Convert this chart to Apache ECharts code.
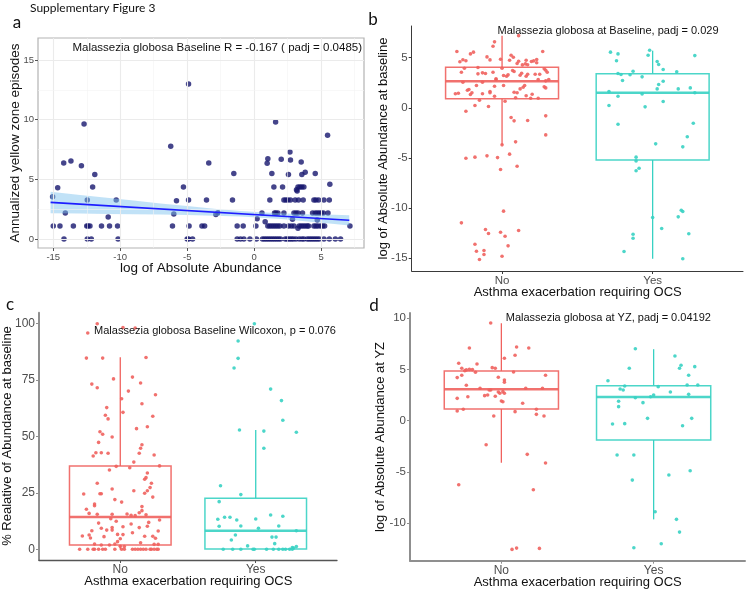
<!DOCTYPE html>
<html><head><meta charset="utf-8">
<script src="https://cdn.jsdelivr.net/npm/echarts@6/dist/echarts.min.js"></script>
<style>html,body{margin:0;padding:0;background:#fff}#c{width:747px;height:590px}</style>
</head><body><div id="c"></div><script>
// ---------- DATA ----------
const groups = ['No', 'Yes'];
// Panel a: [log abundance, annualized yellow zone episodes]
const aPts = [
 [-14.2,0],[-12.46,0],[-12.16,0],[-10.16,0],[-5.0,0],[-4.9,0],[-4.6,0],[-1.27,0],[-1.02,0],[-0.77,0],[-0.32,0],[0.17,0],[0.62,0],[0.77,0],
 [0.92,0],[1.07,0],[1.22,0],[1.37,0],[1.52,0],[1.67,0],[1.82,0],[1.97,0],[2.32,0],[2.47,0],[2.62,0],[2.77,0],[2.92,0],[3.12,0],
 [3.36,0],[3.56,0],[3.71,0],[3.96,0],[4.11,0],[4.26,0],[4.41,0],[4.56,0],[4.71,0],[4.86,0],[5.21,0],[5.61,0],[6.06,0],[6.45,0],
 [-15,1.09],[-14.5,1.09],[-13.5,1.09],[-12.5,1.09],[-12.4,1.09],[-12.26,1.09],[-11.4,1.09],[-10.8,1.09],[-10.2,1.09],[-6.1,1.09],[-4.86,1.09],[-3.9,1.09],[-3.7,1.09],[-1.27,1.09],
 [-0.82,1.09],[0.13,1.09],[1.02,1.09],[1.17,1.09],[1.32,1.09],[1.47,1.09],[1.62,1.09],[1.77,1.09],[1.92,1.09],[2.22,1.09],[2.56,1.09],[2.77,1.09],[2.97,1.09],[3.36,1.09],
 [3.51,1.09],[3.66,1.09],[3.81,1.09],[3.96,1.09],[4.06,1.09],[4.46,1.09],[4.61,1.09],[4.76,1.09],[4.96,1.09],[5.11,1.09],[5.26,1.09],[7.15,1.09],
 [3.27,0.9],[-10.9,1.85],[0.22,1.7],[0.82,1.45],[2.86,1.65],[4.71,1.6],
 [-14.1,2.18],[-6.0,2.1],[-2.86,2.05],[-2.7,2.2],[0.58,2.18],[1.52,2.18],[1.62,2.18],[1.77,2.18],[2.22,2.18],[2.97,2.18],
 [3.12,2.18],[3.27,2.18],[3.61,2.18],[4.36,2.18],[4.56,2.18],[4.71,2.18],[4.86,2.18],[5.01,2.18],[5.16,2.18],[5.51,2.18],
 [-15.05,3.55],[-12.46,3.27],[-10.3,3.27],[-5.8,3.2],[-4.9,3.27],[-3.56,3.27],[-1.62,3.27],[1.17,3.27],[2.22,3.27],[2.37,3.27],
 [2.52,3.27],[2.71,3.27],[3.06,3.27],[3.31,3.27],[3.66,3.27],[4.46,3.27],[4.61,3.27],[4.81,3.27],[5.21,3.27],[5.61,3.27],
 [-14.67,4.3],[-12.06,4.36],[-5.28,4.36],[1.47,4.36],[2.12,4.36],[3.27,4.36],[3.42,4.36],[3.56,4.36],[3.71,4.36],[3.16,4.13],[3.21,4.02],[5.65,4.6],
 [-11.9,5.4],[-1.52,5.5],[1.32,5.5],[2.56,5.4],[3.56,5.4],[3.81,5.6],[4.56,5.5],
 [-14.22,6.37],[-13.68,6.54],[-12.9,6.15],[-6.23,7.77],[-3.39,6.37],[1.02,6.73],[0.97,6.35],[2.02,6.68],[2.71,6.62],[3.51,6.45],[2.67,7.3],
 [-12.7,9.64],[-4.9,13.0],[1.6,9.8],[5.48,8.69]
];
const fitX = [-15.2, 7.1];
const fitY = [3.07, 1.57];
const bandX  = [-15.2,-13,-11,-9,-7,-5,-3,-1,0.5,2,4,6,7.1];
const bandLo = [2.17,2.14,2.11,2.08,2.05,2.01,1.95,1.88,1.79,1.68,1.48,1.27,1.14];
const bandHi = [3.97,3.70,3.47,3.23,2.99,2.77,2.55,2.36,2.24,2.16,2.08,2.03,2.00];
const aXTicks = [-15,-10,-5,0,5];
const aYTicks = [0,5,10,15];

// Panel b: [jitter, log abundance at baseline]
const bNoPts = [
 [-0.30,5.61],[-0.19,5.55],[-0.21,5.38],[-0.28,4.59],[-0.26,4.80],[-0.24,4.70],[-0.05,6.58],[-0.06,6.14],[0.11,7.20],[-0.10,5.08],
 [-0.01,4.85],[0.06,5.25],[0.27,5.61],[0.23,4.82],[-0.27,3.55],[-0.25,3.95],[-0.16,4.02],[-0.04,2.82],[0.07,3.72],[0.29,3.75],
 [-0.31,1.40],[-0.23,1.76],[-0.17,2.22],[0.01,2.22],[-0.24,-0.34],[-0.18,0.23],[-0.09,0.13],[0.06,-0.97],[0.08,-1.30],[0.17,-1.27],
 [0.29,-0.80],[0.29,-2.70],[0.00,-3.69],[0.09,-3.39],[-0.24,-5.02],[-0.18,-4.92],[-0.10,-4.79],[-0.03,-4.96],[0.05,-4.62],[-0.01,-6.15],
 [0.10,-5.82],[0.01,-10.30],[-0.27,-11.47],[-0.11,-12.13],[-0.09,-12.53],[-0.01,-12.40],[0.02,-12.80],[0.11,-12.23],[-0.18,-13.60],[0.04,-13.76],
 [-0.17,-14.30],[-0.12,-14.23],[-0.12,-14.63],[0.00,-14.80],[-0.15,-15.13],[-0.08,4.78],[0.075,5.05],[0.195,4.62],[0.21,4.68],[0.155,4.38],
 [0.135,4.28],[0.10,4.42],[-0.13,3.49],[-0.11,3.42],[-0.06,3.55],[0.00,3.95],[0.03,3.15],[0.04,3.29],[0.13,3.45],[0.16,3.15],
 [0.22,3.35],[0.24,2.82],[0.30,3.55],[0.31,2.82],[-0.29,1.46],[-0.21,1.33],[-0.13,1.40],[-0.08,1.63],[-0.05,1.16],[0.09,1.00],
 [0.10,1.50],[0.14,2.05],[0.16,1.20],[0.20,1.36],[0.24,0.96],[0.28,2.09],[0.29,2.69],[0.02,0.66],[0.05,4.75],[0.11,4.65],
 [0.16,4.75],[0.17,4.29],[0.23,4.49],[0.28,3.89],[-0.16,3.39],[-0.04,2.89],[0.01,3.22],[0.08,3.62],[0.12,3.25],[0.17,3.35],
 [0.25,3.35],[-0.26,2.55],[-0.22,1.83],[-0.20,1.50],[-0.13,2.55],[-0.08,1.50],[-0.05,2.15],[0.08,1.56],[0.12,1.89],[0.15,2.22],
 [0.29,1.99],[-0.15,0.76],[0.19,0.96]
];
const bYesPts = [
 [-0.28,5.55],[-0.23,5.38],[-0.24,4.69],[-0.02,5.74],[-0.03,5.25],[0.28,5.21],[0.03,4.62],[0.04,4.32],[0.07,3.82],[0.16,3.59],
 [-0.13,3.65],[-0.23,3.42],[-0.21,3.32],[-0.15,3.30],[-0.07,3.09],[-0.20,2.72],[0.07,2.65],[0.04,2.32],[0.03,1.89],[0.17,1.89],
 [0.25,1.99],[-0.29,1.62],[-0.07,1.39],[-0.23,1.16],[0.28,1.50],[-0.29,0.23],[-0.05,0.10],[0.07,0.63],[-0.23,-1.63],[0.27,-1.53],
 [0.23,-2.89],[0.02,-3.59],[0.20,-3.89],[-0.11,-4.92],[-0.11,-5.29],[-0.09,-6.02],[-0.11,-6.28],[0.00,-10.94],[0.06,-12.03],[0.19,-10.21],
 [0.20,-10.34],[0.17,-10.87],[0.24,-12.56],[-0.13,-12.60],[-0.13,-13.00],[-0.19,-14.33],[0.20,-15.05]
];
// box stats: [lower whisker, Q1, median, Q3, upper whisker]
const bBoxNo  = [-3.7, 0.9, 2.65, 4.05, 7.2];
const bBoxYes = [-15.05, -5.2, 1.5, 3.4, 5.7];
const bYTicks = [-15,-10,-5,0,5];

// Panel c: [jitter, % relative abundance]
const cNoPts = [
 [-0.24,95.7],[-0.17,99.8],[0.02,98.1],[0.11,97.9],[-0.25,84.6],[-0.13,84.6],[0.19,84.9],[-0.21,73.1],[-0.17,71.5],[-0.05,75.4],
 [0.09,76.2],[0.15,73.6],[0.06,70.0],[0.26,68.4],[0.01,66.6],[-0.10,62.7],[0.16,64.4],[-0.11,59.3],[-0.09,57.7],[0.02,60.6],
 [0.24,58.9],[0.20,54.2],[0.12,53.4],[-0.15,52.0],[-0.13,50.9],[-0.06,49.7],[-0.16,47.3],[0.16,46.3],[0.15,44.7],
 [-0.20,41.3],[-0.18,42.7],[-0.14,42.7],[-0.09,42.5],[0.10,38.6],[0.14,42.5],[0.25,41.7],[0.07,36.1],[0.29,36.9],[-0.08,35.1],
 [-0.03,36.7],[0.20,33.8],[0.19,31.7],[0.18,31.0],[0.23,29.2],[-0.17,29.2],[-0.06,26.7],[0.22,27.3],[0.10,25.9],[0.20,25.9],
 [0.18,24.8],[-0.27,24.5],[-0.15,24.6],[-0.14,24.6],[0.24,23.1],[-0.04,22.0],[0.01,20.9],[-0.19,20.0],[-0.19,19.3],[-0.25,17.7],[-0.23,15.9],
 [-0.17,15.5],[-0.06,15.5],[0.05,15.6],[0.08,15.0],[0.14,16.2],[0.16,17.1],[0.16,18.9],[0.19,15.3],[0.11,14.9],[-0.07,13.5],
 [-0.03,12.4],[0.29,13.0],[-0.16,11.6],[0.21,11.9],[0.08,11.2],[0.14,9.6],[0.20,10.2],[-0.21,8.2],[-0.14,9.3],[-0.10,8.5],
 [-0.06,9.6],[-0.06,8.5],[0.02,10.0],[0.28,8.1],[0.09,7.3],[-0.02,6.6],[-0.28,5.9],[-0.23,6.3],[-0.22,5.0],[-0.12,5.6],
 [0.02,6.5],[0.00,4.7],[0.18,5.8],[0.24,5.8],[0.26,4.9],[-0.19,2.3],[-0.14,1.9],[-0.04,2.3],[-0.02,3.4],[0.15,2.9],
 [0.25,2.2],[0.28,2.2],[0.03,1.2],[0.00,1.3],[-0.08,1.9],
 [-0.30,0],[-0.24,0],[-0.20,0],[-0.19,0],[-0.16,0],[-0.13,0],[-0.11,0],[-0.04,0],[0.01,0],[0.03,0],
 [0.09,0],[0.11,0],[0.13,0],[0.15,0],[0.17,0],[0.19,0],[0.22,0],[0.23,0],[0.25,0],[0.27,0],[0.28,0]
];
const cYesPts = [
 [-0.01,99.8],[-0.13,92.2],[-0.13,84.5],[-0.16,80.2],[0.11,70.9],[0.19,65.8],[0.20,57.1],[-0.12,52.8],[0.06,52.3],[0.30,51.8],
 [0.06,44.7],[-0.26,28.1],[-0.11,24.2],[-0.27,21.1],[-0.28,13.3],[-0.23,14.2],[-0.19,14.2],[-0.27,10.2],[-0.14,13.0],[-0.11,10.3],
 [0.00,13.4],[0.02,9.3],[0.11,15.2],[0.20,14.6],[0.17,10.3],[-0.18,4.1],[-0.15,6.3],[-0.06,1.5],[0.12,5.4],[0.15,5.4],
 [0.14,2.5],[0.30,8.2],[0.30,1.2],[0.27,0.8],[0.28,0.6],
 [-0.24,0],[-0.17,0],[-0.11,0],[-0.02,0],[-0.01,0],[0.08,0],[0.13,0],[0.17,0],[0.20,0],[0.22,0],[0.25,0],[0.27,0]
];
const cBoxNo  = [0, 1.9, 14.3, 36.9, 85];
const cBoxYes = [0, 0.1, 8.2, 22.6, 52.8];
const cYTicks = [0,25,50,75,100];

// Panel d: [jitter, log abundance at YZ]
const dNoPts = [
 [-0.07,9.53],[-0.21,7.09],[0.10,7.19],[0.18,7.09],[0.09,6.38],[0.02,6.09],[-0.28,5.60],[-0.16,5.53],[-0.26,5.11],[-0.23,4.95],
 [-0.21,5.00],[-0.19,4.98],[-0.24,4.88],[-0.17,4.72],[-0.06,5.17],[-0.04,5.11],[0.08,4.75],[-0.29,4.20],[-0.26,4.43],[-0.02,4.23],
 [0.02,3.97],[0.02,3.75],[0.29,4.43],[-0.23,3.45],[-0.14,3.16],[-0.08,2.99],[-0.07,2.99],[-0.02,2.80],[0.01,2.83],[-0.01,2.67],
 [0.02,2.67],[-0.11,2.44],[-0.09,2.50],[-0.04,2.38],[-0.22,2.34],[-0.29,2.18],[0.00,1.92],[0.01,1.85],[0.16,3.16],[0.14,1.70],
 [0.27,3.16],[-0.29,0.95],[-0.25,1.11],[0.09,0.88],[0.23,1.11],[0.23,0.62],[0.28,0.46],[-0.05,0.46],[-0.10,-2.34],[0.17,-3.28],
 [0.29,-4.13],[-0.28,-6.24],[0.21,-6.73],[0.07,-12.55],[0.10,-12.42],[0.25,-12.45]
];
const dYesPts = [
 [-0.12,7.02],[-0.16,5.11],[-0.30,3.90],[-0.22,3.09],[-0.20,2.99],[-0.19,3.38],[-0.12,2.24],[-0.23,1.89],[-0.23,1.37],[-0.07,1.76],
 [-0.04,0.23],[-0.27,-0.32],[-0.19,-0.29],[-0.02,2.34],[0.00,2.50],[0.03,3.32],[0.11,2.80],[0.14,6.31],[0.18,5.40],[0.17,5.11],
 [0.27,5.27],[0.23,4.43],[0.22,3.48],[0.29,3.48],[0.23,2.57],[0.25,0.23],[0.19,-0.49],[-0.24,-3.35],[-0.13,-3.35],[-0.14,-5.79],
 [0.10,-5.30],[0.24,-4.88],[0.01,-8.88],[0.15,-9.62],[0.17,-10.86],[0.05,-12.00],[-0.13,-12.39]
];
const dBoxNo  = [-4.1, 1.14, 3.06, 4.85, 9.5];
const dBoxYes = [-9.62, -1.88, 2.31, 3.41, 6.97];
const dYTicks = [-10,-5,0,5,10];

// ---------- CHART ----------
const FONT = '"Liberation Sans", Arial, sans-serif';
const RED = '#F0625E', TEAL = '#38D1C3';
const chart = echarts.init(document.getElementById('c'), null, {renderer: 'canvas', width: 747, height: 590});

function T(text, x, y, size, o) {
  o = o || {};
  return {type: 'text', x: x, y: y, rotation: o.rot || 0, silent: true, z: 100,
    style: {text: text, fill: o.color || '#111', fontSize: size, fontFamily: o.family || FONT,
      align: o.align || 'center', verticalAlign: 'middle'}};
}

function catX(gi, col, w, fs) {
  return {type: 'value', gridIndex: gi, min: 0.4, max: 2.6,
    axisLine: {show: true, onZero: false, lineStyle: {color: col, width: w}},
    axisTick: {show: true, customValues: [1, 2], length: 3, lineStyle: {color: col}},
    axisLabel: {customValues: [1, 2], formatter: v => groups[Math.round(v) - 1], color: '#4d4d4d',
      fontSize: fs, fontFamily: FONT, margin: 4},
    splitLine: {show: false}};
}
function valY(gi, min, max, ticks, col, w, fs) {
  return {type: 'value', gridIndex: gi, min: min, max: max,
    axisLine: {show: true, onZero: false, lineStyle: {color: col, width: w}},
    axisTick: {show: true, customValues: ticks, length: 3, lineStyle: {color: col}},
    axisLabel: {customValues: ticks, color: '#4d4d4d', fontSize: fs, fontFamily: FONT, margin: 4},
    splitLine: {show: false}};
}

function boxSeries(idx, stats) {
  const cols = [RED, TEAL];
  return {type: 'custom', xAxisIndex: idx, yAxisIndex: idx, z: 2, silent: true,
    data: stats.map((s, i) => [i + 1].concat(s)),
    encode: {x: 0, y: [1, 2, 3, 4, 5]},
    renderItem: function (p, api) {
      const x = api.value(0), lo = api.value(1), q1 = api.value(2), md = api.value(3), q3 = api.value(4), hi = api.value(5);
      const hw = 0.375, c = cols[p.dataIndex];
      const tl = api.coord([x - hw, q3]), br = api.coord([x + hw, q1]);
      const ml = api.coord([x - hw, md]), mr = api.coord([x + hw, md]);
      const top = api.coord([x, hi]), bot = api.coord([x, lo]);
      return {type: 'group', children: [
        {type: 'line', shape: {x1: top[0], y1: top[1], x2: top[0], y2: tl[1]}, style: {stroke: c, lineWidth: 1.3}},
        {type: 'line', shape: {x1: bot[0], y1: bot[1], x2: bot[0], y2: br[1]}, style: {stroke: c, lineWidth: 1.3}},
        {type: 'rect', shape: {x: tl[0], y: tl[1], width: br[0] - tl[0], height: br[1] - tl[1]},
          style: {stroke: c, fill: 'rgba(255,255,255,0)', lineWidth: 1.5, opacity: 0.9}},
        {type: 'line', shape: {x1: ml[0], y1: ml[1], x2: mr[0], y2: mr[1]}, style: {stroke: c, lineWidth: 2.6, opacity: 0.9}}
      ]};
    }};
}
function jitterSeries(idx, pts, pos, col) {
  return {type: 'scatter', xAxisIndex: idx, yAxisIndex: idx, z: 3, silent: true, symbol: 'circle',
    symbolSize: 3.6, itemStyle: {color: col, opacity: 0.9},
    data: pts.map(p => [pos + p[0], p[1]])};
}

const gridLines = [];
aXTicks.forEach(v => gridLines.push({xAxis: v, lineStyle: {color: '#ebebeb', width: 1.1, type: 'solid'}}));
aXTicks.concat([10]).forEach(v => gridLines.push({xAxis: v - 2.5, lineStyle: {color: '#f3f3f3', width: 0.6, type: 'solid'}}));
aYTicks.forEach(v => gridLines.push({yAxis: v, lineStyle: {color: '#ebebeb', width: 1.1, type: 'solid'}}));
aYTicks.slice(1).forEach(v => gridLines.push({yAxis: v - 2.5, lineStyle: {color: '#f3f3f3', width: 0.6, type: 'solid'}}));

const option = {
  animation: false,
  backgroundColor: '#ffffff',
  grid: [
    {left: 38, top: 38, width: 326, height: 210, show: true, borderColor: '#b3b3b3', borderWidth: 1.2, backgroundColor: '#fff'},
    {left: 411.7, top: 26, width: 331.3, height: 245},
    {left: 39, top: 312.7, width: 298, height: 247.3},
    {left: 410, top: 313, width: 335, height: 247.7}
  ],
  xAxis: [
    {type: 'value', gridIndex: 0, min: -16.14, max: 8.2,
      axisLine: {show: false, onZero: false},
      axisTick: {show: true, customValues: aXTicks, length: 3, lineStyle: {color: '#555'}},
      axisLabel: {customValues: aXTicks, color: '#4d4d4d', fontSize: 9.5, fontFamily: FONT, margin: 4},
      splitLine: {show: false}},
    catX(1, '#3a3a3a', 1, 11.5),
    catX(2, '#555555', 1.3, 12),
    catX(3, '#8f8f8f', 2, 12)
  ],
  yAxis: [
    {type: 'value', gridIndex: 0, min: -0.75, max: 16.85,
      axisLine: {show: false, onZero: false},
      axisTick: {show: true, customValues: aYTicks, length: 3, lineStyle: {color: '#555'}},
      axisLabel: {customValues: aYTicks, color: '#4d4d4d', fontSize: 9.5, fontFamily: FONT, margin: 4},
      splitLine: {show: false}},
    valY(1, -16.27, 8.16, bYTicks, '#3a3a3a', 1, 11.5),
    valY(2, -4.73, 104.7, cYTicks, '#8f8f8f', 2, 12),
    valY(3, -13.65, 10.5, dYTicks, '#8f8f8f', 2, 11.5)
  ],
  series: [
    {type: 'line', xAxisIndex: 0, yAxisIndex: 0, data: [], z: 1, silent: true,
      markLine: {silent: true, symbol: ['none', 'none'], label: {show: false}, animation: false, data: gridLines}},
    {type: 'scatter', xAxisIndex: 0, yAxisIndex: 0, z: 3, silent: true, symbol: 'circle', symbolSize: 5.5,
      itemStyle: {color: '#16166e', borderWidth: 0}, data: aPts},
    {type: 'custom', xAxisIndex: 0, yAxisIndex: 0, z: 4, silent: true,
      data: [[bandX[0], bandLo[0]]],
      renderItem: function (p, api) {
        const pts = [];
        for (let i = 0; i < bandX.length; i++) pts.push(api.coord([bandX[i], bandHi[i]]));
        for (let i = bandX.length - 1; i >= 0; i--) pts.push(api.coord([bandX[i], bandLo[i]]));
        return {type: 'polygon', shape: {points: pts}, style: {fill: 'rgba(125,195,238,0.48)'}};
      }},
    {type: 'line', xAxisIndex: 0, yAxisIndex: 0, z: 5, silent: true, symbol: 'none',
      lineStyle: {color: '#1d1dff', width: 1.6}, data: fitX.map((x, i) => [x, fitY[i]])},

    boxSeries(1, [bBoxNo, bBoxYes]),
    jitterSeries(1, bNoPts, 1, RED),
    jitterSeries(1, bYesPts, 2, TEAL),
    boxSeries(2, [cBoxNo, cBoxYes]),
    jitterSeries(2, cNoPts, 1, RED),
    jitterSeries(2, cYesPts, 2, TEAL),
    boxSeries(3, [dBoxNo, dBoxYes]),
    jitterSeries(3, dNoPts, 1, RED),
    jitterSeries(3, dYesPts, 2, TEAL)
  ],
  graphic: [
    T('Supplementary Figure 3', 30, 8, 12, {align: 'left', family: 'Lato'}),
    T('a', 17, 23, 17, {family: 'Lato'}),
    T('b', 373, 20, 17, {family: 'Lato'}),
    T('c', 10, 305, 17, {family: 'Lato'}),
    T('d', 374, 306, 17, {family: 'Lato'}),
    T('Malassezia globosa Baseline R = -0.167 ( padj = 0.0485)', 362, 48, 11.5, {align: 'right'}),
    T('Malassezia globosa at Baseline, padj = 0.029', 608, 30.5, 11),
    T('Malassezia globosa Baseline Wilcoxon, p = 0.076', 215, 330.7, 11),
    T('Malassezia globosa at YZ, padj = 0.04192', 608.3, 318.3, 11),
    T('log of Absolute Abundance', 200.7, 268.3, 13.5),
    T('Annualized yellow zone episodes', 15, 143, 13.5, {rot: Math.PI / 2}),
    T('Asthma exacerbation requiring OCS', 577.7, 292.7, 13),
    T('log of Absolute Abundance at baseline', 383, 148.5, 13, {rot: Math.PI / 2}),
    T('Asthma exacerbation requiring OCS', 188.3, 581.7, 13),
    T('% Realative of Abundance at baseline', 7.5, 436, 13, {rot: Math.PI / 2}),
    T('Asthma exacerbation requiring OCS', 577.7, 582.7, 13),
    T('log of Absolute Abundance at YZ', 380, 437, 13, {rot: Math.PI / 2})
  ]
};
chart.setOption(option);
</script></body></html>
